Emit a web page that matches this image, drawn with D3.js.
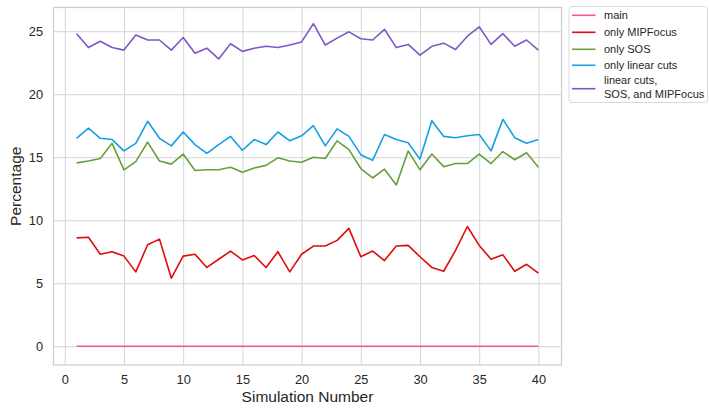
<!DOCTYPE html>
<html>
<head>
<meta charset="utf-8">
<script src="https://cdn.jsdelivr.net/npm/d3@7"></script>
<style>
  html, body { margin: 0; padding: 0; background: #fff; }
  svg { display: block; font-family: "Liberation Sans", Arial, sans-serif; }
</style>
</head>
<body>
<svg id="chart" width="709" height="408"></svg>
<script>
// Simulation runs 1..40
const simulations = d3.range(1, 41);

const seriesNames = [
  "main",
  "only MIPFocus",
  "only SOS",
  "only linear cuts",
  "linear cuts,\nSOS, and MIPFocus"
];

const seriesColors = ["#ff4f9a", "#e00b0b", "#66a03a", "#14a0e6", "#7e57c9"];

const mainValues = simulations.map(() => 0);

const mipFocusValues = [
  8.6, 8.65, 7.3, 7.5, 7.15, 5.9, 8.05, 8.5, 5.4, 7.15,
  7.3, 6.25, 6.9, 7.55, 6.85, 7.2, 6.25, 7.5, 5.9, 7.3,
  7.95, 7.95, 8.4, 9.35, 7.1, 7.55, 6.8, 7.95, 8.0, 7.1,
  6.25, 5.95, 7.6, 9.5, 8.0, 6.9, 7.25, 5.95, 6.5, 5.8
];

const sosValues = [
  14.55, 14.7, 14.9, 16.1, 14.0, 14.65, 16.2, 14.7, 14.45, 15.25,
  13.95, 14.0, 14.0, 14.2, 13.8, 14.15, 14.35, 14.95, 14.7, 14.6,
  15.0, 14.9, 16.3, 15.6, 14.1, 13.35, 14.05, 12.8, 15.5, 14.0,
  15.25, 14.25, 14.5, 14.5, 15.25, 14.5, 15.45, 14.8, 15.35, 14.2
];

const linearCutsValues = [
  16.5, 17.3, 16.5, 16.4, 15.5, 16.1, 17.85, 16.5, 15.9, 17.0,
  16.0, 15.3, 16.0, 16.65, 15.55, 16.4, 16.0, 17.0, 16.3, 16.7,
  17.5, 15.9, 17.25, 16.65, 15.2, 14.75, 16.8, 16.4, 16.15, 14.85,
  17.9, 16.65, 16.55, 16.7, 16.8, 15.5, 18.0, 16.55, 16.1, 16.4
];

const combinedValues = [
  24.8, 23.7, 24.2, 23.7, 23.5, 24.7, 24.3, 24.3, 23.5, 24.5,
  23.25, 23.65, 22.8, 24.0, 23.4, 23.65, 23.8, 23.7, 23.9, 24.15,
  25.6, 23.9, 24.45, 24.95, 24.4, 24.3, 25.15, 23.7, 23.95, 23.1,
  23.8, 24.05, 23.55, 24.6, 25.35, 23.95, 24.8, 23.8, 24.3, 23.5
];

const xTicks = [0, 5, 10, 15, 20, 25, 30, 35, 40];
const yTicks = [0, 5, 10, 15, 20, 25];

const seriesValues = [mainValues, mipFocusValues, sosValues, linearCutsValues, combinedValues];

// Plot frame
const plot = { left: 53.5, right: 561.5, top: 7.5, bottom: 365 };

const svg = d3.select("#chart");

const x = d3.scaleLinear().domain([-0.95, 41.95]).range([plot.left, plot.right]);
const y = d3.scaleLinear().domain([-1.49, 26.88]).range([plot.bottom, plot.top]);

const gridColor = "#d5d5d5";
const textColor = "#262626";

// Grid lines via axes
svg.append("g")
  .attr("transform", `translate(0,${plot.bottom})`)
  .call(d3.axisBottom(x).tickValues(xTicks).tickSize(-(plot.bottom - plot.top)).tickFormat(""))
  .call(g => g.select(".domain").remove())
  .call(g => g.selectAll("line").attr("stroke", gridColor).attr("stroke-width", 1));

svg.append("g")
  .attr("transform", `translate(${plot.left},0)`)
  .call(d3.axisLeft(y).tickValues(yTicks).tickSize(-(plot.right - plot.left)).tickFormat(""))
  .call(g => g.select(".domain").remove())
  .call(g => g.selectAll("line").attr("stroke", gridColor).attr("stroke-width", 1));

// Tick labels
svg.append("g")
  .attr("transform", `translate(0,${plot.bottom})`)
  .call(d3.axisBottom(x).tickValues(xTicks).tickSize(0).tickPadding(10).tickFormat(d3.format("d")))
  .call(g => g.select(".domain").remove())
  .call(g => g.selectAll("text").attr("fill", textColor).attr("font-size", 12.8)
    .attr("font-family", "Liberation Sans, Arial, sans-serif"));

svg.append("g")
  .attr("transform", `translate(${plot.left},0)`)
  .call(d3.axisLeft(y).tickValues(yTicks).tickSize(0).tickPadding(10.5).tickFormat(d3.format("d")))
  .call(g => g.select(".domain").remove())
  .call(g => g.selectAll("text").attr("fill", textColor).attr("font-size", 12.8)
    .attr("font-family", "Liberation Sans, Arial, sans-serif"));

// Frame
svg.append("rect")
  .attr("x", plot.left).attr("y", plot.top)
  .attr("width", plot.right - plot.left).attr("height", plot.bottom - plot.top)
  .attr("fill", "none").attr("stroke", "#cccccc").attr("stroke-width", 1.2);

// Series lines
const line = d3.line()
  .x((d, i) => x(simulations[i]))
  .y(d => y(d));

seriesValues.forEach((vals, k) => {
  svg.append("path")
    .datum(vals)
    .attr("d", line)
    .attr("fill", "none")
    .attr("stroke", seriesColors[k])
    .attr("stroke-width", 1.6)
    .attr("stroke-linejoin", "round");
});

// Axis titles
svg.append("text")
  .attr("x", (plot.left + plot.right) / 2)
  .attr("y", 402)
  .attr("text-anchor", "middle")
  .attr("fill", textColor)
  .attr("font-size", 15.5)
  .text("Simulation Number");

svg.append("text")
  .attr("transform", `translate(21,${(plot.top + plot.bottom) / 2}) rotate(-90)`)
  .attr("text-anchor", "middle")
  .attr("fill", textColor)
  .attr("font-size", 15.5)
  .text("Percentage");

// Legend
const legend = svg.append("g");
legend.append("rect")
  .attr("x", 569).attr("y", 6.5).attr("width", 138.5).attr("height", 96)
  .attr("rx", 3).attr("fill", "#fff").attr("stroke", "#d9d9d9").attr("stroke-width", 1);

const rowY = [15.3, 32.3, 49.3, 65.3, 88.7];
seriesNames.forEach((name, k) => {
  legend.append("line")
    .attr("x1", 572).attr("x2", 595.5)
    .attr("y1", rowY[k]).attr("y2", rowY[k])
    .attr("stroke", seriesColors[k]).attr("stroke-width", 1.6);
  const parts = name.split("\n");
  const t = legend.append("text")
    .attr("x", 604)
    .attr("fill", textColor)
    .attr("font-size", 11);
  if (parts.length === 1) {
    t.attr("y", rowY[k]).attr("dy", "0.35em").text(parts[0]);
  } else {
    parts.forEach((p, j) => {
      t.append("tspan").attr("x", 604).attr("y", [80, 93.7][j]).attr("dy", "0.35em").text(p);
    });
  }
});
</script>
</body>
</html>
